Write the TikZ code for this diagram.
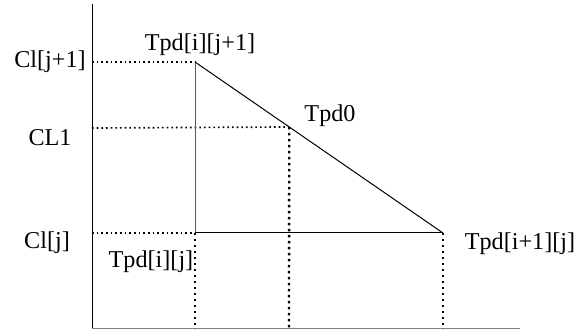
\documentclass[tikz,border=0pt]{standalone}
\usepackage{fontspec}
\setmainfont{Liberation Serif}
\usetikzlibrary{positioning, calc}

\begin{document}
\begin{tikzpicture}[x=0.6pt, y=-0.6pt,
    lbl/.style={inner sep=0pt, font=\fontsize{14.5}{17}\selectfont},
    guide/.style={line width=1pt, dash pattern=on 1pt off 1.8pt},
    guidev/.style={line width=1.4pt, dash pattern=on 1.4pt off 2.2pt},
    edge/.style={line width=0.6pt}]
    \useasboundingbox (0,0) rectangle (587,330);
    % --- Eixos ---
    \coordinate (top) at (92,4);
    \coordinate (org) at (92,329);
    \coordinate (xend) at (520,329);
    \draw[edge] (top) -- (org);
    \draw[edge, gray] (org) -- (xend);
    % --- Vertices do triangulo ---
    \coordinate (a) at (195,62);
    \coordinate (b) at (195,233);
    \coordinate (c) at (443,233);
    \coordinate (p) at ($(a)!0.38!(c)$);
    % --- Projecoes ---
    \coordinate (ya) at (92,62);
    \coordinate (yp) at (92,128);
    \coordinate (yb) at (92,233);
    \coordinate (xb) at (195,329);
    \coordinate (xp) at (289,329);
    \coordinate (xc) at (443,329);
    \draw[guide] (ya) -- (a);
    \draw[guide] (yp) -- (p);
    \draw[guide] (yb) -- (b);
    \draw[guidev] (b) -- (xb);
    \draw[guidev] (p) -- (xp);
    \draw[guidev] (c) -- (xc);
    % --- Triangulo ---
    \draw[edge, gray!70!black] (a) -- (b);
    \draw[edge] (b) -- (c);
    \draw[edge] (a) -- (c);
    % --- Rotulos ---
    \node[lbl] (la) at (200,45) {Tpd[i][j+1]};
    \node[lbl] (lp) at (330,116) {Tpd0};
    \node[lbl] (lb) at (151,262) {Tpd[i][j]};
    \node[lbl] (lc) at (520,244) {Tpd[i+1][j]};
    \node[lbl] (cja) at (50,62) {Cl[j+1]};
    \node[lbl] (cl1) at (50,138) {CL1};
    \node[lbl] (cj) at (47,243) {Cl[j]};
\end{tikzpicture}
\end{document}
